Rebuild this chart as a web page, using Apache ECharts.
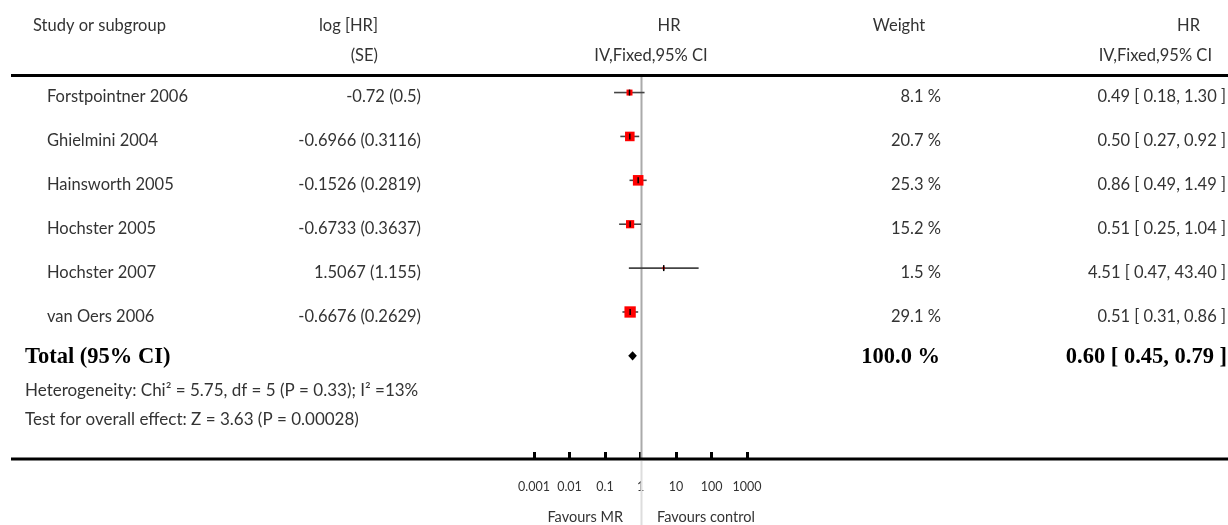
<!DOCTYPE html>
<html>
<head>
<meta charset="utf-8">
<script src="https://cdn.jsdelivr.net/npm/echarts@6/dist/echarts.min.js"></script>
<style>
  html, body { margin: 0; padding: 0; background: #fff; }
  #chart { width: 1228px; height: 525px; }
</style>
</head>
<body>
<div id="chart"></div>
<script>
// Study-level data (hazard ratios, inverse-variance fixed effect)
const studies = ['Forstpointner 2006', 'Ghielmini 2004', 'Hainsworth 2005', 'Hochster 2005', 'Hochster 2007', 'van Oers 2006'];
const logHR = [-0.72, -0.6966, -0.1526, -0.6733, 1.5067, -0.6676];
const seLogHR = [0.5, 0.3116, 0.2819, 0.3637, 1.155, 0.2629];
const hr = [0.49, 0.50, 0.86, 0.51, 4.51, 0.51];
const hrLow = [0.18, 0.27, 0.49, 0.25, 0.47, 0.31];
const hrHigh = [1.30, 0.92, 1.49, 1.04, 43.40, 0.86];
const weights = [8.1, 20.7, 25.3, 15.2, 1.5, 29.1];

// Pooled estimate
const totalLabel = 'Total (95% CI)';
const totalHR = 0.60;
const totalLow = 0.45;
const totalHigh = 0.79;
const totalWeight = 100.0;

const heterogeneityText = 'Heterogeneity: Chi\u00b2 = 5.75, df = 5 (P = 0.33); I\u00b2 =13%';
const overallEffectText = 'Test for overall effect: Z = 3.63 (P = 0.00028)';

// Axis
const tickValues = [0.001, 0.01, 0.1, 1, 10, 100, 1000];
const tickLabels = ['0.001', '0.01', '0.1', '1', '10', '100', '1000'];
const favoursLeft = 'Favours MR';
const favoursRight = 'Favours control';

const SANS = 'Lato, "Open Sans", sans-serif';
const SERIF = '"Liberation Serif", "DejaVu Serif", serif';
const TXT = '#333';
const BODY = 16.5;

const chart = echarts.init(document.getElementById('chart'), null, { renderer: 'canvas' });

const studyData = studies.map((s, i) => [hr[i], i, hrLow[i], hrHigh[i], weights[i]]);
const totalRow = studies.length;

function txt(text, x, y, align, opts) {
  return {
    type: 'text',
    style: Object.assign({
      text: text, x: x, y: y, align: align, verticalAlign: 'middle',
      fontSize: BODY, fontFamily: SANS, fill: TXT
    }, opts || {})
  };
}

const option = {
  animation: false,
  backgroundColor: '#fff',
  grid: { left: 534, width: 213, top: 75, height: 384, containLabel: false },
  xAxis: {
    type: 'log',
    logBase: 10,
    position: 'bottom',
    min: tickValues[0],
    max: tickValues[tickValues.length - 1],
    axisLine: { show: false, onZero: false },
    axisTick: { show: true, inside: true, length: 7, lineStyle: { color: '#000', width: 3 } },
    splitLine: { show: false },
    axisLabel: {
      margin: 21,
      fontSize: 12.5,
      fontFamily: SANS,
      color: TXT,
      formatter: function (v) {
        const k = tickValues.findIndex(t => Math.abs(Math.log10(t) - Math.log10(v)) < 1e-6);
        return k >= 0 ? tickLabels[k] : '';
      }
    }
  },
  yAxis: {
    type: 'value',
    inverse: true,
    min: -0.4,
    max: 8.35,
    show: false
  },
  graphic: [
    // header rules and bottom rule
    { type: 'line', shape: { x1: 11, y1: 75.5, x2: 1228, y2: 75.5 }, style: { stroke: '#000', lineWidth: 3 }, z: 10 },
    { type: 'line', shape: { x1: 11, y1: 459, x2: 1228, y2: 459 }, style: { stroke: '#000', lineWidth: 3 }, z: 10 },
    // column headings
    txt('Study or subgroup', 33, 26, 'left'),
    txt('log [HR]', 378, 26, 'right'),
    txt('(SE)', 378, 56, 'right'),
    txt('HR', 669, 26, 'center'),
    txt('IV,Fixed,95% CI', 651, 56, 'center'),
    txt('Weight', 899, 26, 'center'),
    txt('HR', 1200, 26, 'right'),
    txt('IV,Fixed,95% CI', 1212, 56, 'right'),
    // footnotes
    txt(heterogeneityText, 25, 391, 'left', { fontSize: 17 }),
    txt(overallEffectText, 25, 420, 'left', { fontSize: 17 }),
    // favours labels
    txt(favoursLeft, 623, 517, 'right', { fontSize: 14.5 }),
    txt(favoursRight, 657, 517, 'left', { fontSize: 14.5 })
  ],
  series: [
    {
      // line of no effect
      type: 'custom',
      z: 1,
      data: [[1]],
      renderItem: function (params, api) {
        const x = Math.round(api.coord([api.value(0), 0])[0]) + 0.5;
        return {
          type: 'group',
          children: [
            { type: 'line', shape: { x1: x, y1: 77, x2: x, y2: 458 }, style: { stroke: '#aaa', lineWidth: 2 } },
            { type: 'line', shape: { x1: x, y1: 461, x2: x, y2: 525 }, style: { stroke: '#ddd', lineWidth: 2 } }
          ]
        };
      }
    },
    {
      // study rows: table text, CI whiskers and weighted squares
      type: 'custom',
      z: 5,
      data: studyData,
      renderItem: function (params, api) {
        const i = params.dataIndex;
        const c = api.coord([api.value(0), api.value(1)]);
        const lo = api.coord([api.value(2), api.value(1)]);
        const hi = api.coord([api.value(3), api.value(1)]);
        const y = c[1];
        const ty = y + 4.5;
        const s = 2.1 * Math.sqrt(api.value(4));
        return {
          type: 'group',
          children: [
            txt(studies[i], 47, ty, 'left'),
            txt(String(logHR[i]) + ' (' + String(seLogHR[i]) + ')', 421, ty, 'right'),
            txt(weights[i].toFixed(1) + ' %', 941, ty, 'right'),
            txt(hr[i].toFixed(2) + ' [ ' + hrLow[i].toFixed(2) + ', ' + hrHigh[i].toFixed(2) + ' ]', 1226, ty, 'right'),
            { type: 'line', shape: { x1: lo[0], y1: y, x2: hi[0], y2: y }, style: { stroke: '#444', lineWidth: 1.6 } },
            { type: 'rect', shape: { x: c[0] - s / 2, y: y - s / 2, width: s, height: s }, style: { fill: '#ff0000' } },
            { type: 'line', shape: { x1: c[0], y1: y - 3, x2: c[0], y2: y + 3 }, style: { stroke: '#000', lineWidth: 1.5 } }
          ]
        };
      }
    },
    {
      // pooled estimate diamond and bold total row
      type: 'custom',
      z: 5,
      data: [[totalHR, totalRow, totalLow, totalHigh, totalWeight]],
      renderItem: function (params, api) {
        const c = api.coord([api.value(0), api.value(1)]);
        const lo = api.coord([api.value(2), api.value(1)]);
        const hi = api.coord([api.value(3), api.value(1)]);
        const y = c[1];
        const ty = y + 1.5;
        const h = 4.6;
        const bold = { fontFamily: SERIF, fontWeight: 'bold', fontSize: 22.5, fill: '#000' };
        return {
          type: 'group',
          children: [
            txt(totalLabel, 25, ty, 'left', bold),
            txt(totalWeight.toFixed(1) + ' %', 940, ty, 'right', bold),
            txt(totalHR.toFixed(2) + ' [ ' + totalLow.toFixed(2) + ', ' + totalHigh.toFixed(2) + ' ]', 1227, ty, 'right', bold),
            {
              type: 'polygon',
              shape: { points: [[lo[0], y], [c[0], y - h], [hi[0], y], [c[0], y + h]] },
              style: { fill: '#000' }
            }
          ]
        };
      }
    }
  ]
};

chart.setOption(option);
</script>
</body>
</html>
